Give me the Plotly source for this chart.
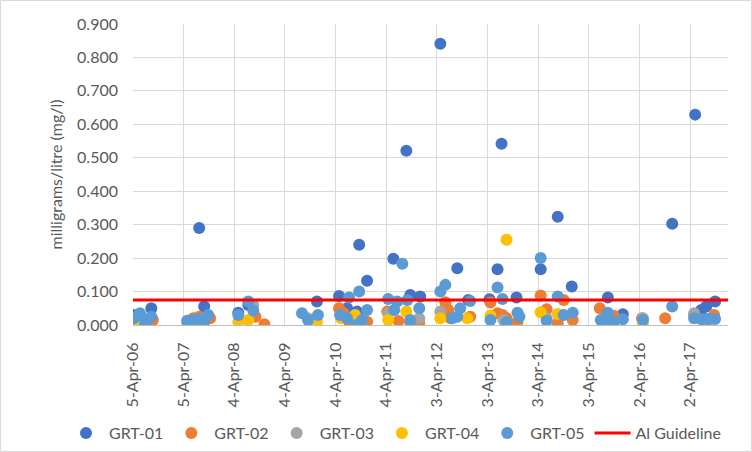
import plotly.graph_objects as go

# ---- data ----
grt01_dates = ["2006-04-08", "2006-08-15", "2007-07-26", "2007-08-31", "2008-05-03", "2008-07-14",
               "2009-11-21", "2010-04-29", "2010-06-26", "2010-09-06", "2010-09-21", "2010-11-17",
               "2011-05-25", "2011-08-27", "2011-09-24", "2011-12-05", "2012-04-28", "2012-08-28",
               "2012-11-15", "2013-04-17", "2013-06-14", "2013-07-13", "2013-10-29", "2014-04-21",
               "2014-08-22", "2014-12-01", "2015-08-18", "2015-12-04", "2016-11-24", "2017-05-08",
               "2017-06-21", "2017-07-27", "2017-09-29"]
grt01_values = [0.030, 0.050, 0.290, 0.055, 0.037, 0.060,
                0.070, 0.087, 0.050, 0.040, 0.240, 0.132,
                0.198, 0.521, 0.090, 0.085, 0.841, 0.170,
                0.075, 0.077, 0.167, 0.542, 0.082, 0.167,
                0.324, 0.115, 0.082, 0.032, 0.303, 0.629,
                0.045, 0.055, 0.070]

grt02_dates = ["2006-07-20", "2006-08-27", "2007-06-13", "2007-07-26", "2007-10-13", "2008-09-03",
               "2008-11-07", "2009-10-23", "2010-04-29", "2010-06-01", "2010-07-10", "2010-11-17",
               "2011-04-11", "2011-07-01", "2011-09-24", "2011-11-28", "2012-06-03", "2012-06-24",
               "2012-07-10", "2012-11-29", "2013-04-24", "2013-06-14", "2013-07-20", "2013-08-18",
               "2013-11-05", "2014-04-21", "2014-06-03", "2014-08-22", "2014-10-04", "2014-12-08",
               "2015-06-21", "2015-09-30", "2016-04-20", "2016-10-04", "2017-05-01", "2017-07-05",
               "2017-09-22"]
grt02_values = [0.005, 0.015, 0.020, 0.025, 0.020, 0.025,
                0.002, 0.005, 0.050, 0.035, 0.010, 0.010,
                0.040, 0.012, 0.008, 0.005, 0.068, 0.045,
                0.020, 0.025, 0.067, 0.035, 0.030, 0.020,
                0.010, 0.088, 0.047, 0.005, 0.075, 0.015,
                0.050, 0.028, 0.020, 0.020, 0.030, 0.015,
                0.030]

grt03_dates = ["2006-05-01", "2007-07-01", "2008-08-19", "2009-09-17", "2010-08-01", "2011-04-18",
               "2011-11-28", "2012-04-28", "2013-07-27", "2014-06-03", "2015-08-18", "2016-04-27",
               "2017-05-01"]
grt03_values = [0.015, 0.015, 0.060, 0.020, 0.020, 0.035,
                0.020, 0.040, 0.015, 0.020, 0.015, 0.020,
                0.035]

grt04_dates = ["2006-04-20", "2006-06-15", "2007-04-30", "2007-08-15", "2008-05-03", "2008-07-14",
               "2009-11-21", "2010-05-15", "2010-08-23", "2011-04-18", "2011-08-27", "2012-04-28",
               "2012-11-08", "2013-04-24", "2013-08-18", "2014-04-21", "2014-08-22", "2015-07-20",
               "2016-04-27", "2017-08-17"]
grt04_values = [0.010, 0.012, 0.003, 0.015, 0.010, 0.015,
                0.010, 0.020, 0.030, 0.015, 0.040, 0.020,
                0.020, 0.028, 0.255, 0.038, 0.033, 0.010,
                0.005, 0.010]

grt05_dates = ["2006-04-10", "2006-05-25", "2006-06-01", "2006-07-01", "2006-08-15", "2007-04-30",
               "2007-06-13", "2007-07-26", "2007-08-31", "2007-09-29", "2008-05-03", "2008-07-14",
               "2008-08-19", "2009-08-05", "2009-09-17", "2009-11-28", "2010-05-06", "2010-06-26",
               "2010-07-10", "2010-08-30", "2010-09-21", "2010-10-12", "2010-11-17", "2011-04-18",
               "2011-06-01", "2011-06-22", "2011-07-29", "2011-09-03", "2011-09-24", "2011-11-28",
               "2012-04-28", "2012-06-03", "2012-07-23", "2012-08-28", "2012-09-18", "2012-11-29",
               "2013-04-24", "2013-06-14", "2013-07-20", "2013-08-18", "2013-11-05", "2013-11-19",
               "2014-04-21", "2014-06-03", "2014-08-22", "2014-10-04", "2014-12-08", "2015-06-28",
               "2015-07-20", "2015-08-18", "2015-09-30", "2015-12-04", "2016-04-27", "2016-11-24",
               "2017-05-01", "2017-06-21", "2017-07-27", "2017-08-17", "2017-09-29"]
grt05_values = [0.020, 0.035, 0.028, 0.005, 0.025, 0.013,
                0.015, 0.018, 0.010, 0.030, 0.030, 0.070,
                0.043, 0.035, 0.015, 0.030, 0.030, 0.020,
                0.082, 0.000, 0.100, 0.015, 0.045, 0.078,
                0.045, 0.070, 0.183, 0.075, 0.015, 0.050,
                0.100, 0.120, 0.020, 0.025, 0.050, 0.072,
                0.015, 0.112, 0.078, 0.008, 0.037, 0.025,
                0.200, 0.013, 0.085, 0.030, 0.037, 0.015,
                0.010, 0.037, 0.010, 0.017, 0.015, 0.055,
                0.020, 0.018, 0.018, 0.018, 0.018]

guideline_value = 0.075
axis_start = "2006-04-05"
axis_end = "2017-12-31"

tick_dates = ["2006-04-05", "2007-04-05", "2008-04-04", "2009-04-04", "2010-04-04", "2011-04-04",
              "2012-04-03", "2013-04-03", "2014-04-03", "2015-04-03", "2016-04-02", "2017-04-02"]
tick_labels = ["5-Apr-06", "5-Apr-07", "4-Apr-08", "4-Apr-09", "4-Apr-10", "4-Apr-11",
               "3-Apr-12", "3-Apr-13", "3-Apr-14", "3-Apr-15", "2-Apr-16", "2-Apr-17"]
y_ticks = [0.0, 0.1, 0.2, 0.3, 0.4, 0.5, 0.6, 0.7, 0.8, 0.9]

series = [
    ("GRT-01", grt01_dates, grt01_values, "#4472C4"),
    ("GRT-02", grt02_dates, grt02_values, "#ED7D31"),
    ("GRT-03", grt03_dates, grt03_values, "#A5A5A5"),
    ("GRT-04", grt04_dates, grt04_values, "#FFC000"),
    ("GRT-05", grt05_dates, grt05_values, "#5B9BD5"),
]

FONT = "Lato, 'Open Sans', sans-serif"
fig = go.Figure()
for name, d, v, c in series:
    fig.add_trace(go.Scatter(x=d, y=v, mode="markers", name=name,
                             marker=dict(color=c, size=12, line=dict(width=0))))

fig.add_trace(go.Scatter(x=[axis_start, axis_end], y=[guideline_value, guideline_value],
                         mode="lines", name="Al Guideline",
                         line=dict(color="#FF0000", width=3)))

W, H = 752, 452
ml, mr, mt, mb = 133, 24, 24, 127
pw, ph = W - ml - mr, H - mt - mb

fig.update_layout(
    width=W, height=H,
    margin=dict(l=ml, r=mr, t=mt, b=mb, autoexpand=False),
    paper_bgcolor="white", plot_bgcolor="white",
    font=dict(family=FONT, size=16, color="#595959"),
    showlegend=True,
    legend=dict(orientation="h", x=(63 - ml) / pw, xanchor="left",
                y=-(433 - 325) / ph, yanchor="middle",
                font=dict(size=16, color="#595959"), itemwidth=36,
                tracegroupgap=0, bgcolor="rgba(0,0,0,0)"),
    xaxis=dict(type="date", range=[axis_start, axis_end], tickmode="array",
               tickvals=tick_dates, ticktext=tick_labels, tickangle=-90,
               showgrid=True, gridcolor="#D9D9D9", gridwidth=1,
               showline=True, linecolor="#BFBFBF", linewidth=1, automargin=False,
               ticks="", ticklabelstandoff=10, zeroline=False,
               tickfont=dict(size=16, color="#595959")),
    yaxis=dict(range=[0, 0.9], tickvals=y_ticks, tickformat=".3f",
               showgrid=True, gridcolor="#D9D9D9", gridwidth=1, automargin=False,
               zeroline=False, showline=False, ticks="", ticklabelstandoff=14,
               tickfont=dict(size=16, color="#595959"),
               title=dict(text="milligrams/litre (mg/l)", font=dict(size=16, color="#595959"), standoff=10)),
    shapes=[dict(type="rect", xref="paper", yref="paper",
                 x0=-(ml - 0.5) / pw, x1=1 + (mr - 0.5) / pw,
                 y0=-(mb - 0.5) / ph, y1=1 + (mt - 0.5) / ph,
                 line=dict(color="#D9D9D9", width=1), layer="below")],
)

fig.write_html("out.html", config={"displayModeBar": False},
               post_script="document.body.style.margin='0px';")
